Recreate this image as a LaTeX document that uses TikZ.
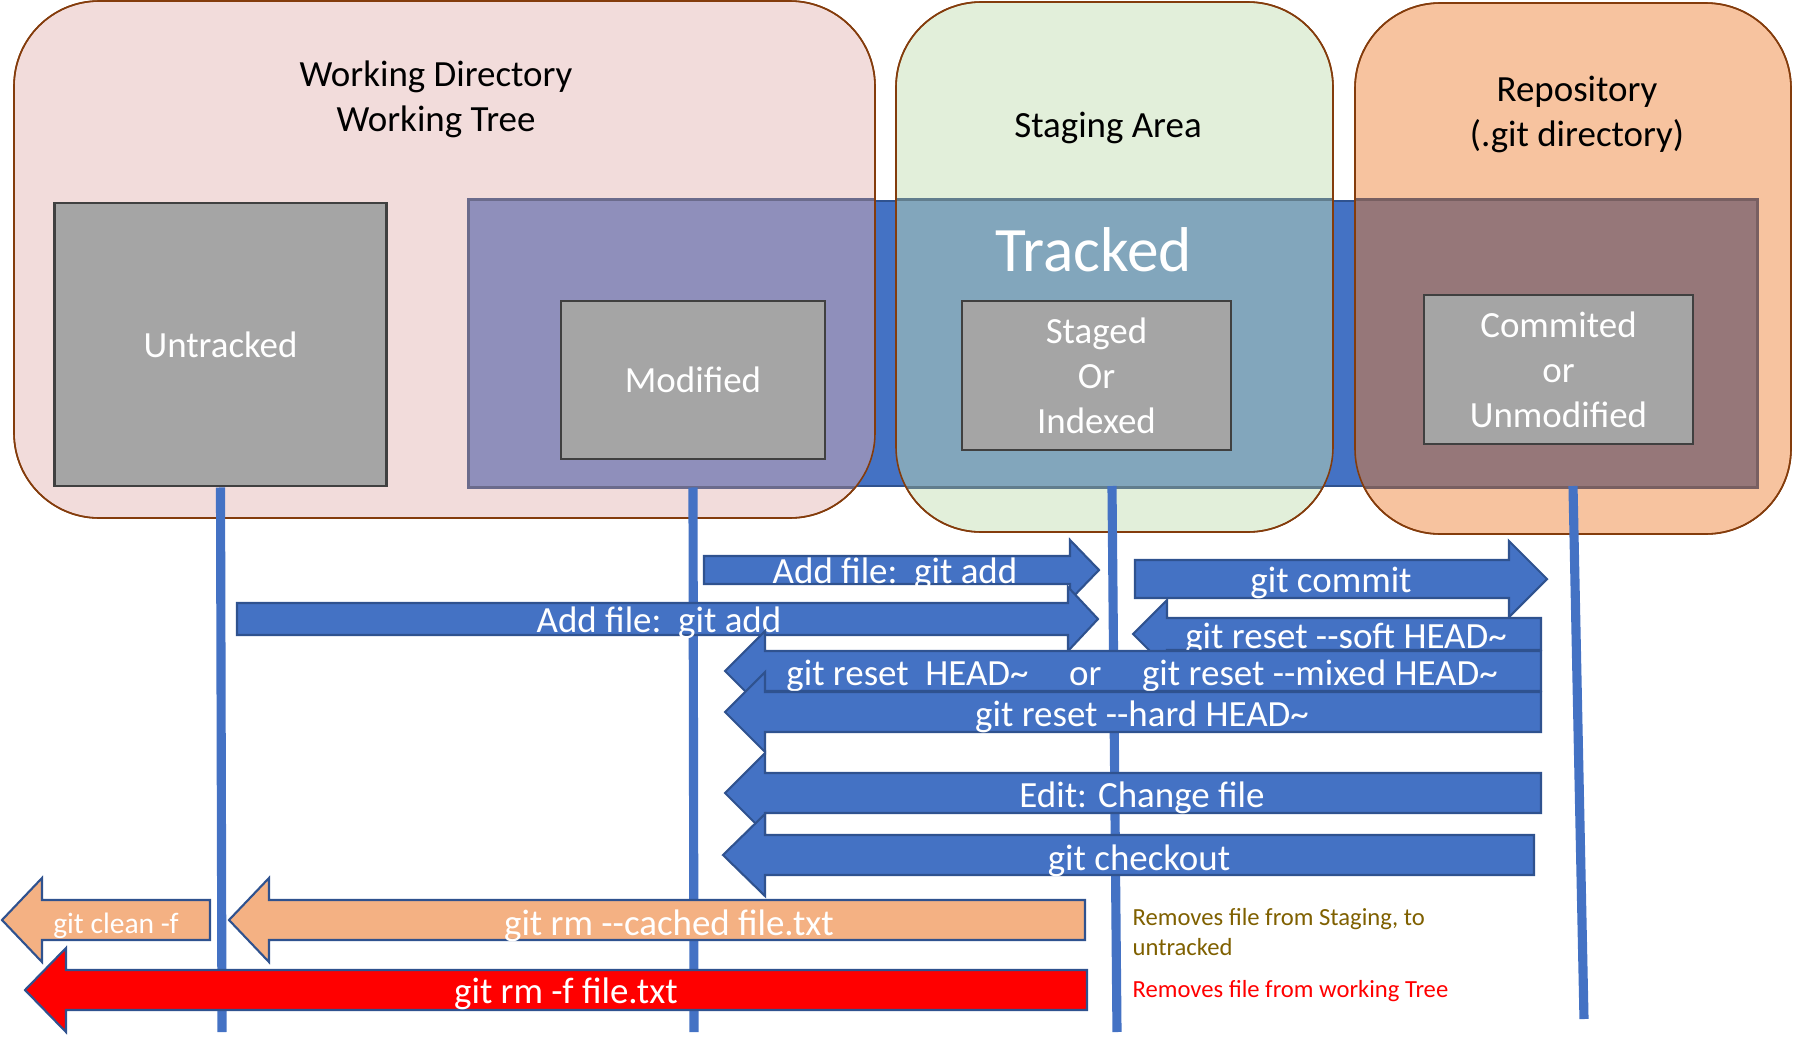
\documentclass[tikz,border=0pt]{standalone}
\usepackage{fontspec}
\setmainfont{Carlito}
\usetikzlibrary{positioning}

\definecolor{pinkfill}{HTML}{F2DCDB}
\definecolor{greenfill}{HTML}{E2EFDA}
\definecolor{peachfill}{HTML}{F7C39F}
\definecolor{areaedge}{HTML}{843C0C}
\definecolor{trackblue}{HTML}{4472C4}
\definecolor{trackedge}{HTML}{2F528F}
\definecolor{wdshade}{HTML}{8F8FBB}
\definecolor{stshade}{HTML}{82A6BC}
\definecolor{reposhade}{HTML}{967779}
\definecolor{boxgray}{HTML}{A5A5A5}
\definecolor{boxedge}{HTML}{404040}
\definecolor{salmon}{HTML}{F4B183}
\definecolor{noteolive}{HTML}{7F6000}

\newcommand{\normaltext}{\fontsize{10.5}{12.8}\selectfont}
\newcommand{\bigtext}{\fontsize{18}{21}\selectfont}
\newcommand{\cleantext}{\fontsize{8.4}{10}\selectfont}
\newcommand{\notetext}{\fontsize{7}{8.5}\selectfont}

% block arrow: style, far end x, head base x, tip x, mid y, half body, half head
\newcommand{\blockarrow}[7]{%
  \draw[#1] (#2,#5-#6) -- (#3,#5-#6) -- (#3,#5-#7) -- (#4,#5)
    -- (#3,#5+#7) -- (#3,#5+#6) -- (#2,#5+#6) -- cycle;}

\tikzset{
  areabox/.style={draw=areaedge, line width=0.45pt, rounded corners=0.85cm},
  statebox/.style={draw=boxedge, fill=boxgray, line width=0.8pt, text=white,
    font=\normaltext, align=center, inner sep=0pt},
  areatitle/.style={font=\normaltext, align=center},
  lane/.style={draw=trackblue, line width=2.6pt},
  bluearrow/.style={draw=trackedge, line width=0.6pt, fill=trackblue},
  peacharrow/.style={draw=trackedge, line width=0.6pt, fill=salmon},
  redarrow/.style={draw=trackedge, line width=0.6pt, fill=red},
  arrowlabel/.style={font=\normaltext, text=white, inner sep=0pt, yshift=-1pt}
}

\begin{document}
\begin{tikzpicture}[x=0.01cm, y=-0.01cm]
  \useasboundingbox (0,0) rectangle (1793,1039);

  % the three areas
  \draw[areabox, fill=pinkfill] (14,1) rectangle (875,518);
  \draw[areabox, fill=greenfill] (896,2) rectangle (1333,532);
  \draw[areabox, fill=peachfill] (1355,3) rectangle (1791,534);

  % tracked band
  \node[draw=trackedge, fill=trackblue, line width=0.8pt, minimum width=12.86cm,
    minimum height=2.85cm, inner sep=0pt] (tracked) at (1113,343.5) {};
  \begin{scope}
    \clip[rounded corners=0.85cm] (14,1) rectangle (875,518);
    \draw[fill=wdshade, draw=wdshade!75!black, line width=0.8pt]
      (tracked.north west) rectangle (tracked.south east);
  \end{scope}
  \begin{scope}
    \clip[rounded corners=0.85cm] (896,2) rectangle (1333,532);
    \draw[fill=stshade, draw=stshade!75!black, line width=0.8pt]
      (tracked.north west) rectangle (tracked.south east);
  \end{scope}
  \begin{scope}
    \clip[rounded corners=0.85cm] (1355,3) rectangle (1791,534);
    \draw[fill=reposhade, draw=reposhade!80!black, line width=0.8pt]
      (tracked.north west) rectangle (tracked.south east);
  \end{scope}
  \draw[areabox] (14,1) rectangle (875,518);
  \draw[areabox] (896,2) rectangle (1333,532);
  \draw[areabox] (1355,3) rectangle (1791,534);

  % titles
  \node[areatitle] (wdtitle) at (436,99) {Working Directory\\Working Tree};
  \node[areatitle] (stagetitle) at (1108,128) {Staging Area};
  \node[areatitle] (repotitle) at (1577,114) {Repository\\(.git directory)};
  \node[font=\bigtext, text=white, inner sep=0pt] (trackedlbl) at (1094,250) {Tracked};

  % file states
  \node[statebox, minimum width=3.31cm, minimum height=2.83cm] (untracked) at (220.5,344.5) {Untracked};
  \node[statebox, minimum width=2.64cm, minimum height=1.58cm] (modified) at (693,380) {Modified};
  \node[statebox, minimum width=2.69cm, minimum height=1.49cm] (staged) at (1096.5,375.5) {Staged\\Or\\Indexed};
  \node[statebox, minimum width=2.69cm, minimum height=1.49cm] (commited) at (1558.5,369.5) {Commited\\or\\Unmodified};

  % lanes
  \coordinate (modtop) at (modified.south |- tracked.south);
  \coordinate (stagetop) at (1112,486);
  \coordinate (repotop) at (1573,486);
  \coordinate (unend) at (222,1032);
  \coordinate (modend) at (694,1032);
  \coordinate (stageend) at (1117,1032);
  \coordinate (repoend) at (1584,1019);
  \draw[lane] (untracked.south) -- (unend);
  \draw[lane] (modtop) -- (modend);
  \draw[lane] (stagetop) -- (stageend);
  \draw[lane] (repotop) -- (repoend);

  % commands
  \blockarrow{bluearrow}{704}{1070}{1099}{570}{14}{30}
  \node[arrowlabel] (addshort) at (895,570) {Add file:\ \ git add};
  \blockarrow{bluearrow}{237}{1068}{1098}{619}{16}{32}
  \node[arrowlabel] (addlong) at (659,619) {Add file:\ \ git add};
  \blockarrow{bluearrow}{1135}{1509}{1547}{579}{19}{38}
  \node[arrowlabel] (commit) at (1331,579) {git commit};
  \blockarrow{bluearrow}{1541}{1167}{1133}{634}{16}{34}
  \node[arrowlabel] (soft) at (1346,635) {git reset -{}-soft HEAD\textasciitilde};
  \blockarrow{bluearrow}{1541}{765}{725}{671}{20}{40}
  \node[arrowlabel] (mixed) at (1142,672) {git reset\ \ HEAD\textasciitilde\hspace{1.1em}or\hspace{1.1em}git reset -{}-mixed HEAD\textasciitilde};
  \blockarrow{bluearrow}{1541}{765}{725}{712}{20}{40}
  \node[arrowlabel] (hard) at (1142,713) {git reset -{}-hard HEAD\textasciitilde};
  \blockarrow{bluearrow}{1541}{765}{725}{793}{20}{40}
  \node[arrowlabel] (edit) at (1142,794) {Edit: Change file};
  \blockarrow{bluearrow}{1534}{765}{723}{855}{20}{41}
  \node[arrowlabel] (checkout) at (1139,857) {git checkout};
  \blockarrow{peacharrow}{210}{42}{2}{920}{20}{42}
  \node[arrowlabel, font=\cleantext] (clean) at (116,922) {git clean -f};
  \blockarrow{peacharrow}{1085}{269}{229}{920}{20}{42}
  \node[arrowlabel] (rmcached) at (669,922) {git rm -{}-cached file.txt};
  \blockarrow{redarrow}{1087}{66}{25}{990}{20}{42}
  \node[arrowlabel] (rmforce) at (566,990) {git rm -f file.txt};

  % notes
  \node[font=\notetext, text=noteolive, align=left, anchor=west, inner sep=0pt]
    (cachednote) at (1132,932) {Removes file from Staging, to\\untracked};
  \node[font=\notetext, text=red, anchor=west, inner sep=0pt]
    (forcenote) at (1132,991) {Removes file from working Tree};
\end{tikzpicture}
\end{document}
